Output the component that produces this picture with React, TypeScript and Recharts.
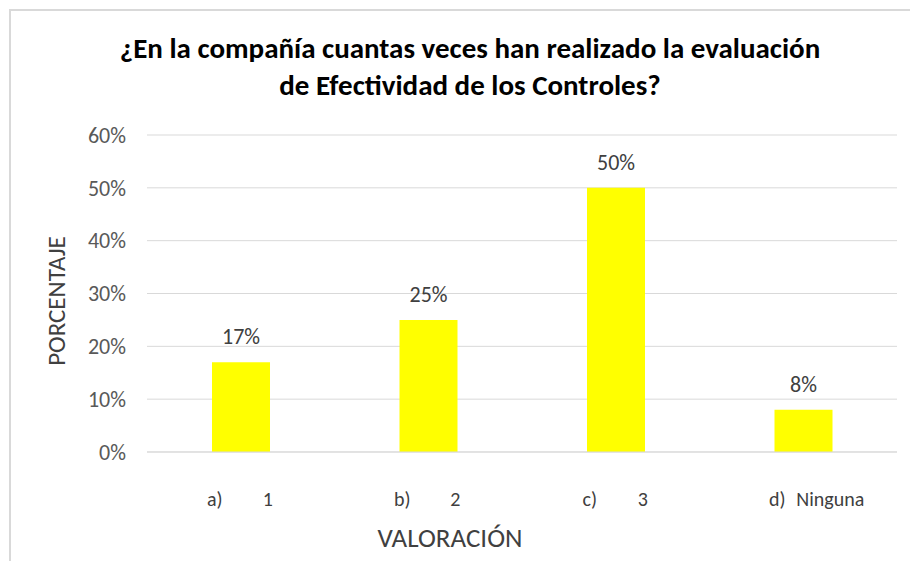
import React from 'react';
import { BarChart, Bar, XAxis, YAxis, CartesianGrid, LabelList, Label } from 'recharts';

const categories = ['a)   1', 'b)   2', 'c)   3', 'd)   Ninguna'];
const percentages = [17, 25, 50, 8];
const yTicks = [0, 10, 20, 30, 40, 50, 60];

const data = categories.map((name, i) => ({ name, value: percentages[i] }));

const FONT = 'Calibri, Carlito, Lato, sans-serif';

const YTick = (props: any) => {
  const { x, y, payload } = props;
  return (
    <text x={x + 1} y={y} dy="0.35em" textAnchor="end" fill="#595959" fontSize={22} fontFamily={FONT}>
      {payload.value}%
    </text>
  );
};

// Excel puts a tab between the letter and the option text
const XTick = (props: any) => {
  const { x, y, payload } = props;
  const [letter, rest] = String(payload.value).split(/\s+/);
  return (
    <g fill="#404040" fontSize={20} fontFamily={FONT}>
      <text x={x - 26} y={y + 39} dy="0.35em" textAnchor="middle">{letter}</text>
      <text x={x + 27} y={y + 39} dy="0.35em" textAnchor="middle">{rest}</text>
    </g>
  );
};

export default function App() {
  return (
    <div style={{ position: 'relative', width: 918, height: 569, margin: -8, background: '#fff', overflow: 'hidden' }}>
      <div style={{ position: 'absolute', left: 9, top: 9, right: -2, bottom: -2, borderLeft: '2px solid #d9d9d9', borderTop: '2px solid #d9d9d9' }} />
      <div style={{ position: 'absolute', left: 0, width: 918, top: 30, textAlign: 'center', fontFamily: FONT, fontWeight: 'bold', fontSize: 29, lineHeight: '37px', color: '#000' }}>
        <div style={{ marginLeft: 22 }}>¿En la compañía cuantas veces han realizado la evaluación</div>
        <div style={{ marginLeft: 22 }}>de Efectividad de los Controles?</div>
      </div>
      <div style={{ position: 'absolute', left: 0, top: 0 }}>
        <BarChart width={918} height={569} data={data} margin={{ top: 135, right: 21, left: 0, bottom: 0 }}>
          <CartesianGrid vertical={false} stroke="#d9d9d9" />
          <XAxis dataKey="name" height={117} axisLine={{ stroke: '#d9d9d9' }} tickLine={false} tick={<XTick />} interval={0}>
            <Label content={() => (
              <text x={450} y={538} dy="0.35em" textAnchor="middle" fill="#404040" fontSize={27} fontFamily={FONT}>VALORACIÓN</text>
            )} />
          </XAxis>
          <YAxis width={147} domain={[0, 60]} ticks={yTicks} axisLine={false} tickLine={false} tick={<YTick />} tickSize={20}>
            <Label content={() => (
              <text x={56} y={301} dy="0.35em" textAnchor="middle" fill="#404040" fontSize={25} fontFamily={FONT}
                transform="rotate(-90 56 301)">PORCENTAJE</text>
            )} />
          </YAxis>
          <Bar dataKey="value" fill="#ffff00" barSize={58} isAnimationActive={false}>
            <LabelList dataKey="value" position="top" offset={18} fill="#404040" fontSize={22} fontFamily={FONT}
              formatter={(v: any) => `${v}%`} />
          </Bar>
        </BarChart>
      </div>
    </div>
  );
}
